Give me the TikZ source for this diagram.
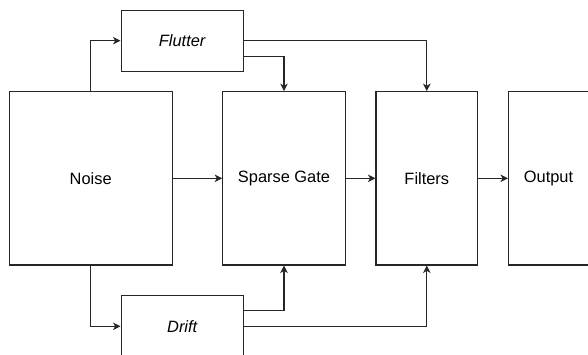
\documentclass[tikz,border=0pt]{standalone}
\usepackage{fontspec}
\setmainfont{Liberation Sans}
\usetikzlibrary{arrows.meta,calc}
\begin{document}
\begin{tikzpicture}[x=1pt,y=-1pt,
  blk/.style={draw=black!85,line width=1.1pt,fill=white,inner sep=0pt,
    font=\fontsize{16.4}{19}\selectfont},
  conn/.style={draw=black!85,line width=1.1pt,-{Stealth[length=7.5pt,width=7.5pt,inset=2.2pt]}}]
\useasboundingbox (0,0) rectangle (588,354);
\node[blk,minimum width=163.3pt,minimum height=173.3pt] (noise) at (90.7,178.3) {Noise};
\node[blk,minimum width=122.3pt,minimum height=60.7pt] (flutter) at (182.2,40.7) {\itshape Flutter};
\node[blk,minimum width=122.3pt,minimum height=61.3pt] (drift) at (182.2,326.3) {\itshape Drift};
\node[blk,minimum width=122.6pt,minimum height=173.3pt] (gate) at (284,178.3) {Sparse Gate};
\node[blk,minimum width=101.7pt,minimum height=173.3pt] (filters) at (426.8,178.3) {Filters};
\node[blk,minimum width=80pt,minimum height=173.3pt] (output) at (548.5,178.3) {Output};
\coordinate (fl3) at ($(flutter.north east)!0.75!(flutter.south east)$);
\coordinate (dr1) at ($(drift.north east)!0.25!(drift.south east)$);
\draw[conn] (noise.north) |- (flutter.west);
\draw[conn] (noise.south) |- (drift.west);
\draw[conn] (noise.east) -- (gate.west);
\draw[conn] (gate.east) -- (filters.west);
\draw[conn] (filters.east) -- (output.west);
\draw[conn] (flutter.east) -| (filters.north);
\draw[conn] (fl3) -| (gate.north);
\draw[conn] (dr1) -| (gate.south);
\draw[conn] (drift.east) -| (filters.south);
\end{tikzpicture}
\end{document}
